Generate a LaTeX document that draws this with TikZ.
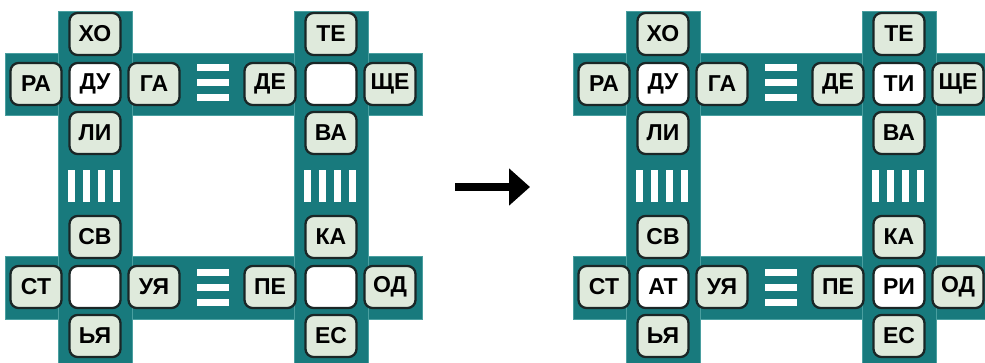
\documentclass[tikz,border=0pt]{standalone}
\usepackage{fontspec}
\setmainfont{Liberation Sans}
\usetikzlibrary{arrows.meta}

\definecolor{bandteal}{HTML}{187A7D}
\definecolor{bandedge}{HTML}{4A9FA0}
\definecolor{cellfill}{HTML}{DFEADC}
\definecolor{celledge}{HTML}{1A2626}

\tikzset{
  band/.style={fill=bandteal, draw=bandedge, line width=0.8pt},
  bar/.style={fill=white, draw=none},
  cell/.style={draw=celledge, line width=2.3pt, fill=cellfill, rounded corners=8pt,
    minimum width=51pt, minimum height=42pt, inner sep=0pt,
    font=\fontsize{23}{23}\selectfont\bfseries},
  blankcell/.style={cell, fill=white},
}

% one rebus: #1 name prefix, #2 shift, #3 top-right centre, #4 bottom-left centre, #5 bottom-right centre
\newcommand{\rebus}[5]{
  \begin{scope}[xshift=#2]
    % teal frame
    \fill[band] (5,53) rectangle (422,115);
    \fill[band] (5,256) rectangle (422,319);
    \fill[band] (58,11) rectangle (132,365);
    \fill[band] (294,11) rectangle (368,365);
    \fill[bandteal] (59,54) rectangle (131,114);
    \fill[bandteal] (295,54) rectangle (367,114);
    \fill[bandteal] (59,257) rectangle (131,318);
    \fill[bandteal] (295,257) rectangle (367,318);
    % equal signs
    \foreach \y in {67,82,97,272,287,302}
      \fill[bar] (197,\y-3.5) rectangle (229,\y+3.5);
    \foreach \x in {71.5,86.5,101.5,116.5}
      \fill[bar] (\x-3.5,170) rectangle (\x+3.5,202);
    \foreach \x in {307.5,322.5,337.5,352.5}
      \fill[bar] (\x-3.5,170) rectangle (\x+3.5,202);
    % top left cross
    \node[cell] (#1xo) at (95,34) {ХО};
    \node[cell] (#1ra) at (36,84) {РА};
    \node[blankcell] (#1du) at (95,84) {ДУ};
    \node[cell] (#1ga) at (154,84) {ГА};
    \node[cell] (#1li) at (95,133) {ЛИ};
    % top right cross
    \node[cell] (#1te) at (331,34) {ТЕ};
    \node[cell] (#1de) at (270,84) {ДЕ};
    \node[blankcell] (#1ti) at (331,84) {#3};
    \node[cell] (#1sche) at (390,84) {ЩЕ};
    \node[cell] (#1va) at (331,133) {ВА};
    % bottom left cross
    \node[cell] (#1sv) at (95,237) {СВ};
    \node[cell] (#1st) at (36,287) {СТ};
    \node[blankcell] (#1at) at (95,287) {#4};
    \node[cell] (#1uya) at (154,287) {УЯ};
    \node[cell] (#1ya) at (95,336) {ЬЯ};
    % bottom right cross
    \node[cell] (#1ka) at (331,237) {КА};
    \node[cell] (#1pe) at (270,287) {ПЕ};
    \node[blankcell] (#1ri) at (331,287) {#5};
    \node[cell] (#1od) at (390,287) {ОД};
    \node[cell] (#1es) at (331,336) {ЕС};
  \end{scope}
}

\begin{document}
\begin{tikzpicture}[x=1pt, y=-1pt]
  \useasboundingbox (0,0) rectangle (985,362);
  \begin{scope}
    \clip (0,0) rectangle (985,362);
    \rebus{q}{0pt}{}{}{}
    \rebus{a}{568pt}{ТИ}{АТ}{РИ}
  \end{scope}
  % arrow between the two rebuses
  \coordinate (arrowtail) at (455,187);
  \coordinate (arrowhead) at (530,187);
  \draw[line width=8pt, -{Triangle[length=21pt, width=36pt]}] (arrowtail) -- (arrowhead);
\end{tikzpicture}
\end{document}
